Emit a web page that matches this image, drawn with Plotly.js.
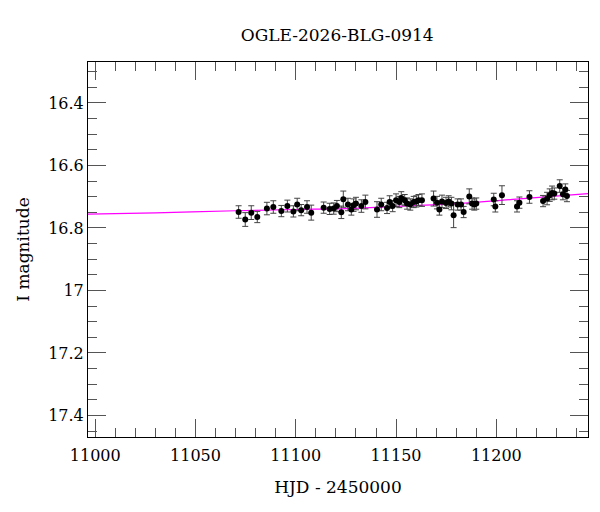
<!DOCTYPE html>
<html>
<head>
<meta charset="utf-8">
<script src="https://cdn.plot.ly/plotly-3.0.1.min.js"></script>
<style>
  body { margin: 0; background: #fff; }
  #myDiv { width: 600px; height: 512px; }
</style>
</head>
<body>
<div id="myDiv"></div>
<script>
// OGLE photometry, HJD - 2450000
var hjd = [11071.5, 11074.8, 11077.8, 11080.8, 11085.6, 11088.8, 11092.8, 11095.8, 11098.8, 11100.7,
  11102.7, 11105.6, 11107.7, 11113.9, 11116.9, 11118.9, 11120.5, 11122.7, 11123.7, 11126.0,
  11127.7, 11128.8, 11130.0, 11132.7, 11134.7, 11140.5, 11142.6, 11145.5, 11146.8, 11148.3,
  11150.0, 11151.6, 11152.6, 11154.3, 11155.5, 11157.1, 11158.8, 11160.1, 11161.2, 11162.9,
  11168.7, 11170.4, 11171.6, 11172.9, 11174.9, 11176.2, 11177.6, 11178.7, 11180.7, 11182.4,
  11183.7, 11186.5, 11187.9, 11189.0, 11190.0, 11198.7, 11199.5, 11202.8, 11210.3, 11211.5,
  11216.5, 11223.3, 11225.3, 11226.6, 11227.8, 11228.9, 11231.6, 11233.2, 11234.4, 11235.2];

var imag = [16.749, 16.773, 16.751, 16.765, 16.738, 16.733, 16.746, 16.730, 16.747, 16.725,
  16.743, 16.733, 16.751, 16.735, 16.739, 16.738, 16.730, 16.750, 16.708, 16.725,
  16.741, 16.727, 16.722, 16.730, 16.717, 16.741, 16.725, 16.736, 16.717, 16.730,
  16.711, 16.717, 16.704, 16.711, 16.722, 16.725, 16.717, 16.715, 16.711, 16.711,
  16.706, 16.719, 16.741, 16.715, 16.720, 16.715, 16.722, 16.759, 16.725, 16.725,
  16.749, 16.699, 16.722, 16.725, 16.722, 16.709, 16.731, 16.695, 16.731, 16.719,
  16.701, 16.714, 16.706, 16.695, 16.688, 16.690, 16.666, 16.692, 16.677, 16.698];

var ierr = [0.020, 0.022, 0.022, 0.018, 0.020, 0.020, 0.018, 0.019, 0.018, 0.020,
  0.018, 0.020, 0.024, 0.018, 0.018, 0.018, 0.018, 0.020, 0.026, 0.020,
  0.018, 0.020, 0.020, 0.020, 0.022, 0.025, 0.020, 0.018, 0.020, 0.018,
  0.020, 0.018, 0.020, 0.018, 0.018, 0.018, 0.018, 0.018, 0.018, 0.020,
  0.024, 0.020, 0.018, 0.020, 0.018, 0.018, 0.020, 0.040, 0.018, 0.018,
  0.018, 0.024, 0.018, 0.018, 0.018, 0.020, 0.018, 0.030, 0.018, 0.018,
  0.020, 0.018, 0.020, 0.020, 0.022, 0.018, 0.020, 0.018, 0.018, 0.018];

// model curve
var modelT = [10996, 11030, 11070, 11100, 11125, 11150, 11180, 11210, 11246];
var modelMag = [16.756, 16.752, 16.745, 16.741, 16.738, 16.731, 16.722, 16.708, 16.690];

var font = 'DejaVu Serif, Liberation Serif, serif';

var model = {
  type: 'scatter',
  x: modelT,
  y: modelMag,
  mode: 'lines',
  line: {color: '#ff00ff', width: 1.2, shape: 'spline'},
  hoverinfo: 'skip'
};

var obs = {
  type: 'scatter',
  x: hjd,
  y: imag,
  mode: 'markers',
  marker: {color: 'black', size: 6},
  error_y: {type: 'data', array: ierr, visible: true, color: '#444', thickness: 1, width: 3}
};

var axisCommon = {
  showline: true,
  linecolor: 'black',
  linewidth: 1,
  mirror: 'allticks',
  ticks: 'inside',
  tickcolor: '#555',
  tickwidth: 1,
  showgrid: false,
  zeroline: false,
  tickfont: {family: font, size: 16, color: 'black'}
};

var layout = {
  width: 600,
  height: 512,
  margin: {l: 88, r: 12, t: 62, b: 75},
  paper_bgcolor: 'white',
  plot_bgcolor: 'white',
  showlegend: false,
  font: {family: font, color: 'black'},
  title: {text: 'OGLE-2026-BLG-0914', font: {family: font, size: 17}, x: 0.562, xanchor: 'center', y: 0.932, yanchor: 'middle'},
  xaxis: Object.assign({}, axisCommon, {
    range: [10996.4, 11245.7],
    tick0: 11000, dtick: 50, ticklen: 18, tickformat: 'd',
    ticklabelstandoff: 4,
    minor: {dtick: 10, tick0: 11000, ticklen: 9, ticks: 'inside', tickcolor: '#555'},
    title: {text: 'HJD - 2450000', font: {family: font, size: 17}, standoff: 16}
  }),
  yaxis: Object.assign({}, axisCommon, {
    range: [17.469, 16.269],
    tick0: 16.4, dtick: 0.2, ticklen: 18,
    minor: {dtick: 0.05, tick0: 16.4, ticklen: 9, ticks: 'inside', tickcolor: '#555'},
    title: {text: 'I magnitude', font: {family: font, size: 17}, standoff: 14}
  })
};

Plotly.newPlot('myDiv', [model, obs], layout, {displayModeBar: false, staticPlot: true});
</script>
</body>
</html>
